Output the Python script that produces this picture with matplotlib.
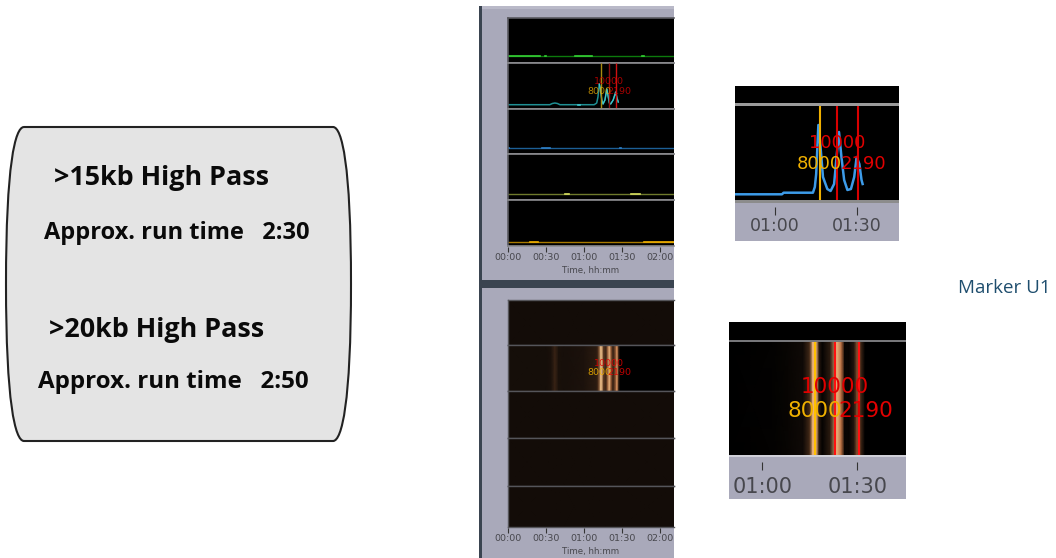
import matplotlib

matplotlib.use("Agg")
import matplotlib.pyplot as plt
import numpy as np
from matplotlib.colors import LinearSegmentedColormap
from matplotlib.patches import PathPatch, Rectangle
from matplotlib.path import Path

W, H = 1056, 558

# Text box
box_lines = [">15kb High Pass", "Approx. run time   2:30", ">20kb High Pass", "Approx. run time   2:50"]
side_label = "Marker U1"

# Shared time axis
tick_minutes = [0, 30, 60, 90, 120]
tick_labels = ["00:00", "00:30", "01:00", "01:30", "02:00"]
inset_ticks = [60, 90]
inset_tick_labels = ["01:00", "01:30"]
time_label_top = "Time, hh:mm"
time_label_bottom = "Time, hh:mm"

# Marker labels
marker_labels = ["8000", "10000", "2190"]
marker_colors = ["#f0b000", "#e00000", "#e00000"]

# Overview traces: channel baseline and brighter stretches
channel_colors = ["#0c7a0c", "#1f8f93", "#1c5f96", "#6f7a2c", "#a87a00"]
channel_bright = ["#35d035", "#3fc8d0", "#2f80c8", "#d8e060", "#f0b000"]
channel_level = [6.7, 4.3, 6.0, 6.0, 4.0]
channel_stretches = [
    [(0, 25), (29, 30), (53, 66), (106, 107)],
    [(55, 57)],
    [(0, 1), (27, 33), (88, 89)],
    [(45, 48), (97, 104)],
    [(17, 24), (107, 131)],
]
overview_markers = [73.3, 79.4, 85.5]
overview_label_times = [72, 80, 88]
overview_marker_colors = ["#a88a10", "#8a1010", "#d01010"]

teal_time = [0, 33, 35, 37, 39, 41, 68, 70, 71, 72, 73, 74, 75, 76.5, 78, 79, 80, 81, 83, 85, 86, 87]
teal_vals = [4.3, 4.3, 5.5, 6.0, 5.5, 4.3, 4.3, 6, 12, 25, 20, 9, 5, 9, 20, 13, 6, 5, 9, 17, 11, 7]

# Inset trace
blue_time = [45.1, 62.5, 63.1, 73.9, 74.6, 75.1, 75.9, 76.7, 77.6, 79.2, 80.4, 81.7, 82.7, 83.5, 84.4,
             85.4, 86.6, 87.9, 89.1, 90.0, 91.0, 91.8, 92.2]
blue_vals = [7.7, 7.7, 9.3, 9.3, 15, 28, 77, 55, 25, 13, 11, 18, 48, 70, 45, 22, 12, 13, 25, 45, 38, 22, 18]
inset_markers = [76.5, 82.9, 90.6]
inset_label_times = [76.1, 82.9, 92.5]

# Gel intensity along time (0 black, 1 bright)
gel_time = [0, 30, 34, 37, 40, 44, 60, 70, 71.5, 73.5, 75.5, 77, 78.5, 80, 81.5, 83, 84.5, 86, 87.5, 88.5, 131]
gel_row = [0.13, 0.13, 0.16, 0.3, 0.16, 0.14, 0.17, 0.24, 0.4, 1.0, 0.4, 0.3, 0.5, 0.92, 0.5, 0.28, 0.45, 0.75, 0.3, 0.0, 0.0]
gel_dim = [0.12, 0.12, 0.12, 0.12, 0.12, 0.12, 0.12, 0.12, 0.12, 0.12, 0.12, 0.12, 0.12, 0.12, 0.12, 0.12,
           0.12, 0.12, 0.12, 0.12, 0.12]
gel_inset_time = [49.5, 63, 68, 73, 75, 76, 77, 78, 79, 81.5, 83.6, 85, 86, 87.5, 89, 90, 91.5, 92.5, 105.4]
gel_inset_row = [0.0, 0.02, 0.05, 0.1, 0.35, 0.9, 0.9, 0.2, 0.03, 0.25, 0.9, 0.6, 0.05, 0.05, 0.2, 0.5, 0.25, 0.0, 0.0]
gel_inset_markers = [76.8, 82.9, 90.7]
gel_inset_label_times = [76.5, 83, 92.8]

GREY = "#a9a9ba"
gel_cmap = LinearSegmentedColormap.from_list(
    "gel", [(0, "#000000"), (0.17, "#1c120c"), (0.35, "#442a18"), (0.65, "#c87848"), (1, "#f8c890")]
)

fig = plt.figure(figsize=(W / 100, H / 100), dpi=100, facecolor="white")


def px_axes(x, y, w, h, **kwargs):
    return fig.add_axes([x / W, 1 - (y + h) / H, w / W, h / H], **kwargs)


def fig_rect(x, y, w, h, color, zorder=-1):
    fig.patches.append(Rectangle((x / W, 1 - (y + h) / H), w / W, h / H, transform=fig.transFigure,
                                 facecolor=color, edgecolor="none", zorder=zorder))


def black_panel(x, y, w, h, xlim, ylim, edge=None, lw=1.0):
    ax = px_axes(x, y, w, h, facecolor="black")
    ax.set_xlim(*xlim)
    ax.set_ylim(*ylim)
    ax.set_xticks([])
    ax.set_yticks([])
    for name, spine in ax.spines.items():
        spine.set_visible(edge is not None and name != "right")
        if edge is not None:
            spine.set_color(edge)
            spine.set_linewidth(lw)
    return ax


def time_strip(x, y, w, h, xlim, ticks, labels, size, tick_len, pad=1.5, label=None):
    ax = px_axes(x, y, w, h)
    ax.patch.set_alpha(0)
    ax.set_xlim(*xlim)
    ax.set_yticks([])
    for spine in ax.spines.values():
        spine.set_visible(False)
    ax.set_xticks(ticks)
    ax.set_xticklabels(labels, fontsize=size, color="#36363a", alpha=0.85)
    ax.tick_params(axis="x", direction="out", length=tick_len, width=0.8, color="#333333", pad=pad)
    ax.xaxis.set_ticks_position("bottom")
    if label:
        ax.set_xlabel(label, fontsize=6.2, color="#36363a", alpha=0.85, labelpad=2.5)
    return ax


def marker_text(ax, times, y_top, y_low, size, alpha=1.0, colors=marker_colors):
    ax.text(times[1], y_top, marker_labels[1], color=colors[1], fontsize=size, ha="center", va="center", alpha=alpha, zorder=6)
    ax.text(times[0], y_low, marker_labels[0], color=colors[0], fontsize=size, ha="center", va="center", alpha=alpha, zorder=6)
    ax.text(times[2], y_low, marker_labels[2], color=colors[2], fontsize=size, ha="center", va="center", alpha=alpha, zorder=6)


# Text box with bulged sides
box_ax = fig.add_axes([0, 0, 1, 1], facecolor="none")
box_ax.set_xlim(0, W)
box_ax.set_ylim(H, 0)
box_ax.axis("off")
verts = [(24, 127), (333, 127), (342, 127), (351, 165), (351, 284), (351, 402), (342, 441), (333, 441),
         (24, 441), (15, 441), (6, 402), (6, 284), (6, 165), (15, 127), (24, 127)]
codes = [Path.MOVETO, Path.LINETO, Path.CURVE4, Path.CURVE4, Path.CURVE4, Path.CURVE4, Path.CURVE4, Path.CURVE4,
         Path.LINETO, Path.CURVE4, Path.CURVE4, Path.CURVE4, Path.CURVE4, Path.CURVE4, Path.CURVE4]
box_ax.add_patch(PathPatch(Path(verts, codes), facecolor="#e4e4e4", edgecolor="#222222", lw=1.5))
box_font = dict(family="Open Sans", fontweight="bold", color="#0a0a0a", va="center", ha="left")
box_ax.text(54, 178, box_lines[0], fontsize=19.4, **box_font)
box_ax.text(44, 233, box_lines[1], fontsize=17, **box_font)
box_ax.text(49, 330, box_lines[2], fontsize=19.4, **box_font)
box_ax.text(38, 382, box_lines[3], fontsize=17.4, **box_font)
box_ax.text(958, 288, side_label, fontsize=13.5, family="Open Sans", color="#1f4e6e", va="center", ha="left")

# Grey window backgrounds
fig_rect(479, 6, 195, 552, GREY)
fig_rect(479, 6, 3, 552, "#3a4450", zorder=-0.5)
fig_rect(482, 280, 192, 8, "#3a4450", zorder=-0.5)
fig_rect(482, 6, 192, 3, "#b9b9c8", zorder=-0.5)
fig_rect(735, 202, 164, 39, GREY)
fig_rect(729, 456, 177, 43, GREY)

# Overview traces
time_lim = (0, 131)
panel_edges = [18, 63, 109, 154, 200, 246]
for i in range(5):
    top, bottom = panel_edges[i], panel_edges[i + 1]
    ax = black_panel(508, top, 166, bottom - top, time_lim, (0, bottom - top), edge="#8c8c90", lw=1.2)
    ax.spines["left"].set_color("#5a5a60")
    if i == 0:
        ax.spines["top"].set_color("#5a5a60")
    if i == 1:
        ax.plot(teal_time, teal_vals, color=channel_colors[1], lw=1.1)
        ax.plot(teal_time[9:], teal_vals[9:], color=channel_bright[1], lw=0.9)
    else:
        ax.plot(time_lim, [channel_level[i]] * 2, color=channel_colors[i], lw=1.0)
    for start, end in channel_stretches[i]:
        ax.plot([start, end], [channel_level[i]] * 2, color=channel_bright[i], lw=1.2)
    if i == 1:
        ax.vlines(overview_markers, 0, bottom - top, colors=overview_marker_colors, lw=1.0, zorder=5)
        marker_text(ax, overview_label_times, 27, 18, 6.8, alpha=0.75)
time_strip(508, 246, 166, 1, time_lim, tick_minutes, tick_labels, 6.8, 3.5, pad=1, label=time_label_top)

# Overview gel
gel_edges = [300, 345, 391, 438, 486, 527]
for i in range(5):
    top, bottom = gel_edges[i], gel_edges[i + 1]
    ax = black_panel(508, top, 166, bottom - top, time_lim, (0, 1), edge="#55555a", lw=1.0)
    row = gel_row if i == 1 else gel_dim
    ax.pcolormesh(gel_time, [0, 1], np.array([row, row]), cmap=gel_cmap, vmin=0, vmax=1, shading="gouraud")
    if i == 1:
        marker_text(ax, overview_label_times, 0.6, 0.4, 6.8, alpha=0.85)
time_strip(508, 527, 166, 1, time_lim, tick_minutes, tick_labels, 6.8, 3.5, pad=1, label=time_label_bottom)

# Inset of the trace
inset_lim = (45.2, 105.6)
ax = black_panel(735, 86, 164, 18, inset_lim, (0, 1))
ax = black_panel(735, 104, 164, 98, inset_lim, (0, 98))
ax.plot(blue_time, blue_vals, color="#3d9be8", lw=1.8)
ax.vlines(inset_markers, 0, 98, colors=["#f0b000", "#d80000", "#d80000"], lw=1.5, zorder=5)
marker_text(ax, inset_label_times, 59, 38, 13)
fig_rect(735, 102.5, 164, 3, "#9a9a9a", zorder=5)
fig_rect(735, 200.5, 164, 2, "#8c8c8c", zorder=5)
time_strip(735, 206, 164, 1, inset_lim, inset_ticks, inset_tick_labels, 12.5, 6)

# Inset of the gel
gel_inset_lim = (49.5, 105.4)
ax = black_panel(729, 322, 177, 19, gel_inset_lim, (0, 1))
ax = black_panel(729, 341, 177, 115, gel_inset_lim, (0, 1))
ax.pcolormesh(gel_inset_time, [0, 1], np.array([gel_inset_row, gel_inset_row]), cmap=gel_cmap, vmin=0, vmax=1,
              shading="gouraud")
ax.vlines(gel_inset_markers, 0, 1, colors=["#ffc000", "#ff1010", "#ff1010"], lw=1.5, zorder=5)
marker_text(ax, gel_inset_label_times, 0.6, 0.39, 15.5)
fig_rect(729, 340, 177, 1.5, "#77777a", zorder=5)
fig_rect(729, 455, 177, 2, "#d0d0d8", zorder=5)
time_strip(729, 461, 177, 1, gel_inset_lim, inset_ticks, inset_tick_labels, 15, 6, pad=5)

fig.savefig("out.png", dpi=100)
